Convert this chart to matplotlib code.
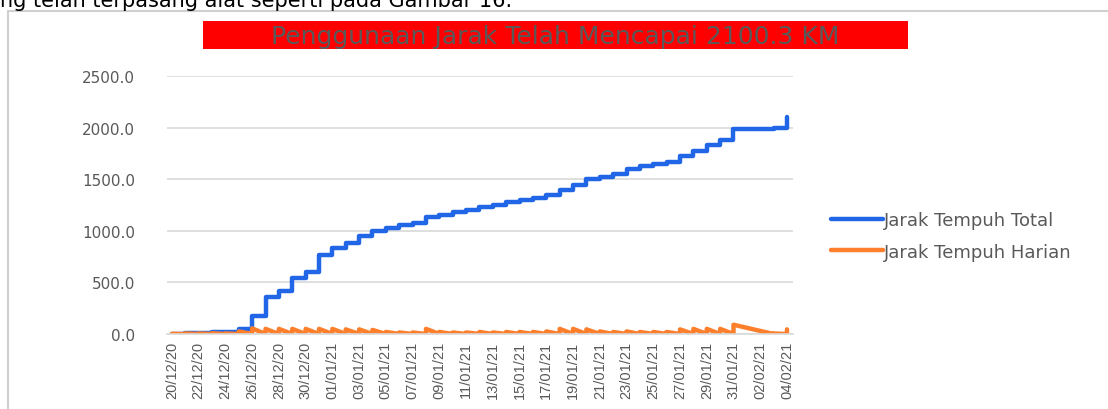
import datetime as dt
import numpy as np
import matplotlib
matplotlib.use("Agg")
import matplotlib.pyplot as plt
import matplotlib.dates as mdates
from matplotlib.patches import Rectangle

# ------------------------------------------------------------
# Data

tanggal = [
    "20/12/20", "21/12/20", "22/12/20", "23/12/20", "24/12/20", "25/12/20",
    "26/12/20", "27/12/20", "28/12/20", "29/12/20", "30/12/20", "31/12/20",
    "01/01/21", "02/01/21", "03/01/21", "04/01/21", "05/01/21", "06/01/21",
    "07/01/21", "08/01/21", "09/01/21", "10/01/21", "11/01/21", "12/01/21",
    "13/01/21", "14/01/21", "15/01/21", "16/01/21", "17/01/21", "18/01/21",
    "19/01/21", "20/01/21", "21/01/21", "22/01/21", "23/01/21", "24/01/21",
    "25/01/21", "26/01/21", "27/01/21", "28/01/21", "29/01/21", "30/01/21",
    "31/01/21", "03/02/21", "04/02/21",
]

total_km = [
    3, 8, 12, 15, 20, 45,
    170, 360, 420, 540, 600, 770,
    830, 880, 950, 1000, 1030, 1055,
    1080, 1130, 1155, 1180, 1205, 1230,
    1250, 1275, 1300, 1320, 1345, 1400,
    1445, 1500, 1525, 1550, 1600, 1625,
    1645, 1670, 1720, 1775, 1830, 1880,
    1985, 1995, 2100.3,
]

harian_km = [
    2, 5, 5, 8, 5, 25,
    55, 50, 50, 50, 50, 50,
    50, 45, 45, 40, 20, 15,
    15, 50, 20, 15, 15, 20,
    15, 20, 20, 20, 25, 50,
    50, 45, 25, 20, 25, 20,
    20, 20, 45, 50, 50, 50,
    90, 5, 45,
]

y_ticks = [0, 500, 1000, 1500, 2000, 2500]

# ------------------------------------------------------------
# Titik garis: beberapa pembacaan per hari jatuh di tanggal yang sama

x_hari = mdates.date2num([dt.datetime.strptime(t, "%d/%m/%y") for t in tanggal])

xs_total, ys_total = [], []
sebelum = 0
for x, t in zip(x_hari, total_km):
    xs_total += [x, x]
    ys_total += [sebelum, t]
    sebelum = t

xs_harian, ys_harian = [], []
for x, h in zip(x_hari, harian_km):
    xs_harian += [x, x]
    ys_harian += [0, h]

# ------------------------------------------------------------
# Gambar

fig = plt.figure(figsize=(11.08, 4.1), dpi=100)
ax = fig.add_axes([0.1507, 0.1829, 0.5650, 0.6293])

grey = "#595959"
ax.plot(xs_total, ys_total, color="#2166e6", lw=3.2,
        solid_joinstyle="round", solid_capstyle="round", label="Jarak Tempuh Total")
ax.plot(xs_harian, ys_harian, color="#fd7f2c", lw=3.2,
        solid_joinstyle="round", solid_capstyle="round", label="Jarak Tempuh Harian")

ax.set_ylim(0, 2500)
ax.set_yticks(y_ticks)
ax.set_yticklabels([f"{v:.1f}" for v in y_ticks])
ax.set_xlim(x_hari[0] - 0.37, x_hari[-1] + 0.45)
ax.set_xticks(np.arange(x_hari[0], x_hari[-1] + 1, 2))
ax.xaxis.set_major_formatter(mdates.DateFormatter("%d/%m/%y"))

ax.grid(axis="y", color="#d9d9d9", lw=1.2)
ax.set_axisbelow(True)
for s in ["top", "right", "left"]:
    ax.spines[s].set_visible(False)
ax.spines["bottom"].set_color("#d9d9d9")
ax.spines["bottom"].set_linewidth(1.2)

ax.tick_params(axis="y", which="major", length=0, pad=23, labelsize=11, labelcolor=grey)
ax.tick_params(axis="x", length=0, pad=5, labelcolor=grey)
for lbl in ax.get_xticklabels():
    lbl.set_rotation(90)
    lbl.set_family(["Liberation Sans", "DejaVu Sans"])
    lbl.set_fontsize(10.5)

leg = ax.legend(loc="center left", bbox_to_anchor=(0.735, 0.422),
                bbox_transform=fig.transFigure, frameon=False, fontsize=13,
                handlelength=2.9, handletextpad=0.05, labelspacing=0.75)
for t in leg.get_texts():
    t.set_color(grey)

# bingkai chart dan judul merah
fig.patches.append(Rectangle((0.0072, -0.1), 1.2, 1.0707, transform=fig.transFigure,
                             fill=False, edgecolor="#d0d0d0", lw=1.5))
fig.patches.append(Rectangle((0.1832, 0.878), 0.6363, 0.0683, transform=fig.transFigure,
                             facecolor="#ff0000", edgecolor="none"))
fig.text(0.5014, 0.909, "Penggunaan Jarak Telah Mencapai 2100.3 KM",
         ha="center", va="center", fontsize=18, color=grey)

# potongan teks dokumen di atas
fig.text(0.0, 0.983, "ng telah terpasang alat seperti pada Gambar 16.",
         fontsize=15, va="baseline", color="black")

plt.savefig("out.png", dpi=100)
